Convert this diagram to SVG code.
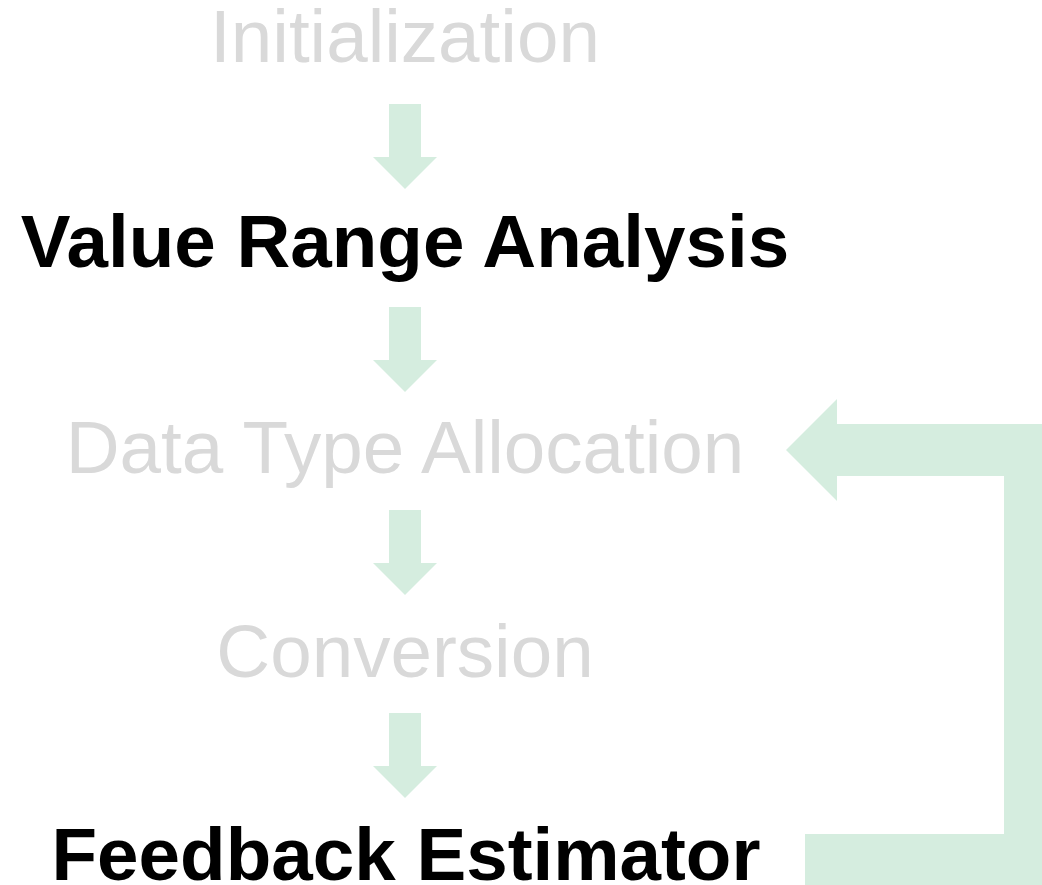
<svg xmlns="http://www.w3.org/2000/svg" width="1042" height="885" viewBox="0 0 1042 885">
<style>
.t{font-family:"Liberation Sans",Arial,sans-serif;font-size:74.6px;text-anchor:middle}
.dim{fill:#d9d9d9}
.bold{fill:#000;font-weight:bold}
.arr{fill:#d5eddf}
</style>
<defs>
<path id="down" d="M-16,0 H16 V53 H32 L0,85 L-32,53 H-16 Z"/>
</defs>
<rect width="1042" height="885" fill="#fff"/>
<g id="connectors">
<use href="#down" class="arr" x="405" y="104"/>
<use href="#down" class="arr" x="405" y="307"/>
<use href="#down" class="arr" x="405" y="510"/>
<use href="#down" class="arr" x="405" y="713"/>
<path class="arr" d="M805,834 H1004 V476 H837 V501 L786,450 L837,399 V424 H1042 V885 H805 Z"/>
</g>
<g id="n1"><text class="t dim" x="405" y="62">Initialization</text></g>
<g id="n2"><text class="t bold" x="405" y="267">Value Range Analysis</text></g>
<g id="n3"><text class="t dim" x="405" y="473">Data Type Allocation</text></g>
<g id="n4"><text class="t dim" x="405" y="677">Conversion</text></g>
<g id="n5"><text class="t bold" x="406" y="880">Feedback Estimator</text></g>
</svg>
